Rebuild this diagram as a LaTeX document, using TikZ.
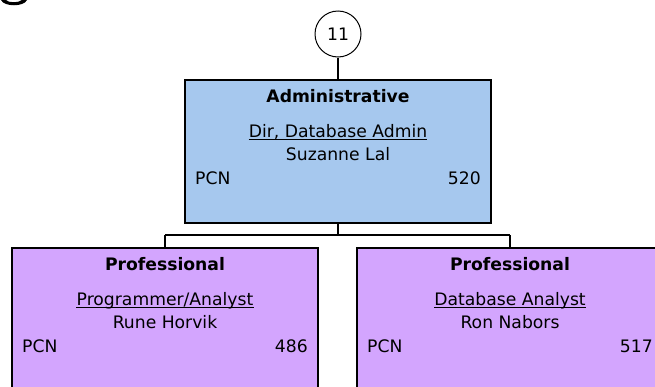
\documentclass[tikz,border=0pt]{standalone}
\usepackage{fontspec}
\setmainfont{DejaVu Sans}
\definecolor{adminblue}{RGB}{166,200,238}
\definecolor{proflav}{RGB}{211,165,254}
\tikzset{
  posbox/.style={draw=black, line width=2pt, rectangle, minimum width=306pt, minimum height=143pt, inner sep=0pt},
  txt/.style={inner sep=0pt, anchor=base, font=\fontsize{17.2}{20}\selectfont},
  btxt/.style={txt, font=\fontsize{17.2}{20}\selectfont\bfseries},
  conn/.style={draw=black, line width=2pt},
  uline/.style={draw=black, line width=1pt}
}
\begin{document}
\begin{tikzpicture}[x=1pt,y=-1pt]
\useasboundingbox (0,0) rectangle (655,386);
\clip (0,0) rectangle (655,386);
% partial glyph at top-left corner
\fill[black] (1,0) .. controls (4,7) and (24,7) .. (27,0) -- (22,0) .. controls (19,3) and (8,3) .. (6,0) -- cycle;
% circle
\node[circle, draw=black, line width=1pt, minimum size=46pt, inner sep=0pt, font=\fontsize{17.2}{20}\selectfont] (num) at (338,34) {11};
% boxes
\node[posbox, fill=adminblue] (admin) at (338,151.5) {};
\node[posbox, fill=proflav] (prog) at (165,319.5) {};
\node[posbox, fill=proflav] (dba) at (510,319.5) {};
% connectors
\coordinate (bus) at (338,235);
\coordinate (busl) at (165,235);
\coordinate (busr) at (510,235);
\draw[conn] (num.south) -- (admin.north);
\draw[conn] (admin.south) -- (bus);
\draw[conn] (busl) -- (busr);
\draw[conn] (busl) -- (prog.north);
\draw[conn] (busr) -- (dba.north);
% admin texts
\node[btxt] (a1) at (338,102) {Administrative};
\node[txt] (a2) at (338,137.7) {Dir, Database Admin};
\draw[uline] ([yshift=-2pt]a2.base west) -- ([yshift=-2pt]a2.base east);
\node[txt] (a3) at (338,160.7) {Suzanne Lal};
\node[txt, anchor=base west] (a4) at (195,184.3) {PCN};
\node[txt, anchor=base east] (a5) at (481,184.3) {520};
% programmer texts
\node[btxt] (p1) at (165,270) {Professional};
\node[txt] (p2) at (165,305.7) {Programmer/Analyst};
\draw[uline] ([yshift=-2pt]p2.base west) -- ([yshift=-2pt]p2.base east);
\node[txt] (p3) at (165,328.7) {Rune Horvik};
\node[txt, anchor=base west] (p4) at (22,352.3) {PCN};
\node[txt, anchor=base east] (p5) at (308,352.3) {486};
% dba texts
\node[btxt] (d1) at (510,270) {Professional};
\node[txt] (d2) at (510,305.7) {Database Analyst};
\draw[uline] ([yshift=-2pt]d2.base west) -- ([yshift=-2pt]d2.base east);
\node[txt] (d3) at (510,328.7) {Ron Nabors};
\node[txt, anchor=base west] (d4) at (367,352.3) {PCN};
\node[txt, anchor=base east] (d5) at (653,352.3) {517};
\end{tikzpicture}
\end{document}
